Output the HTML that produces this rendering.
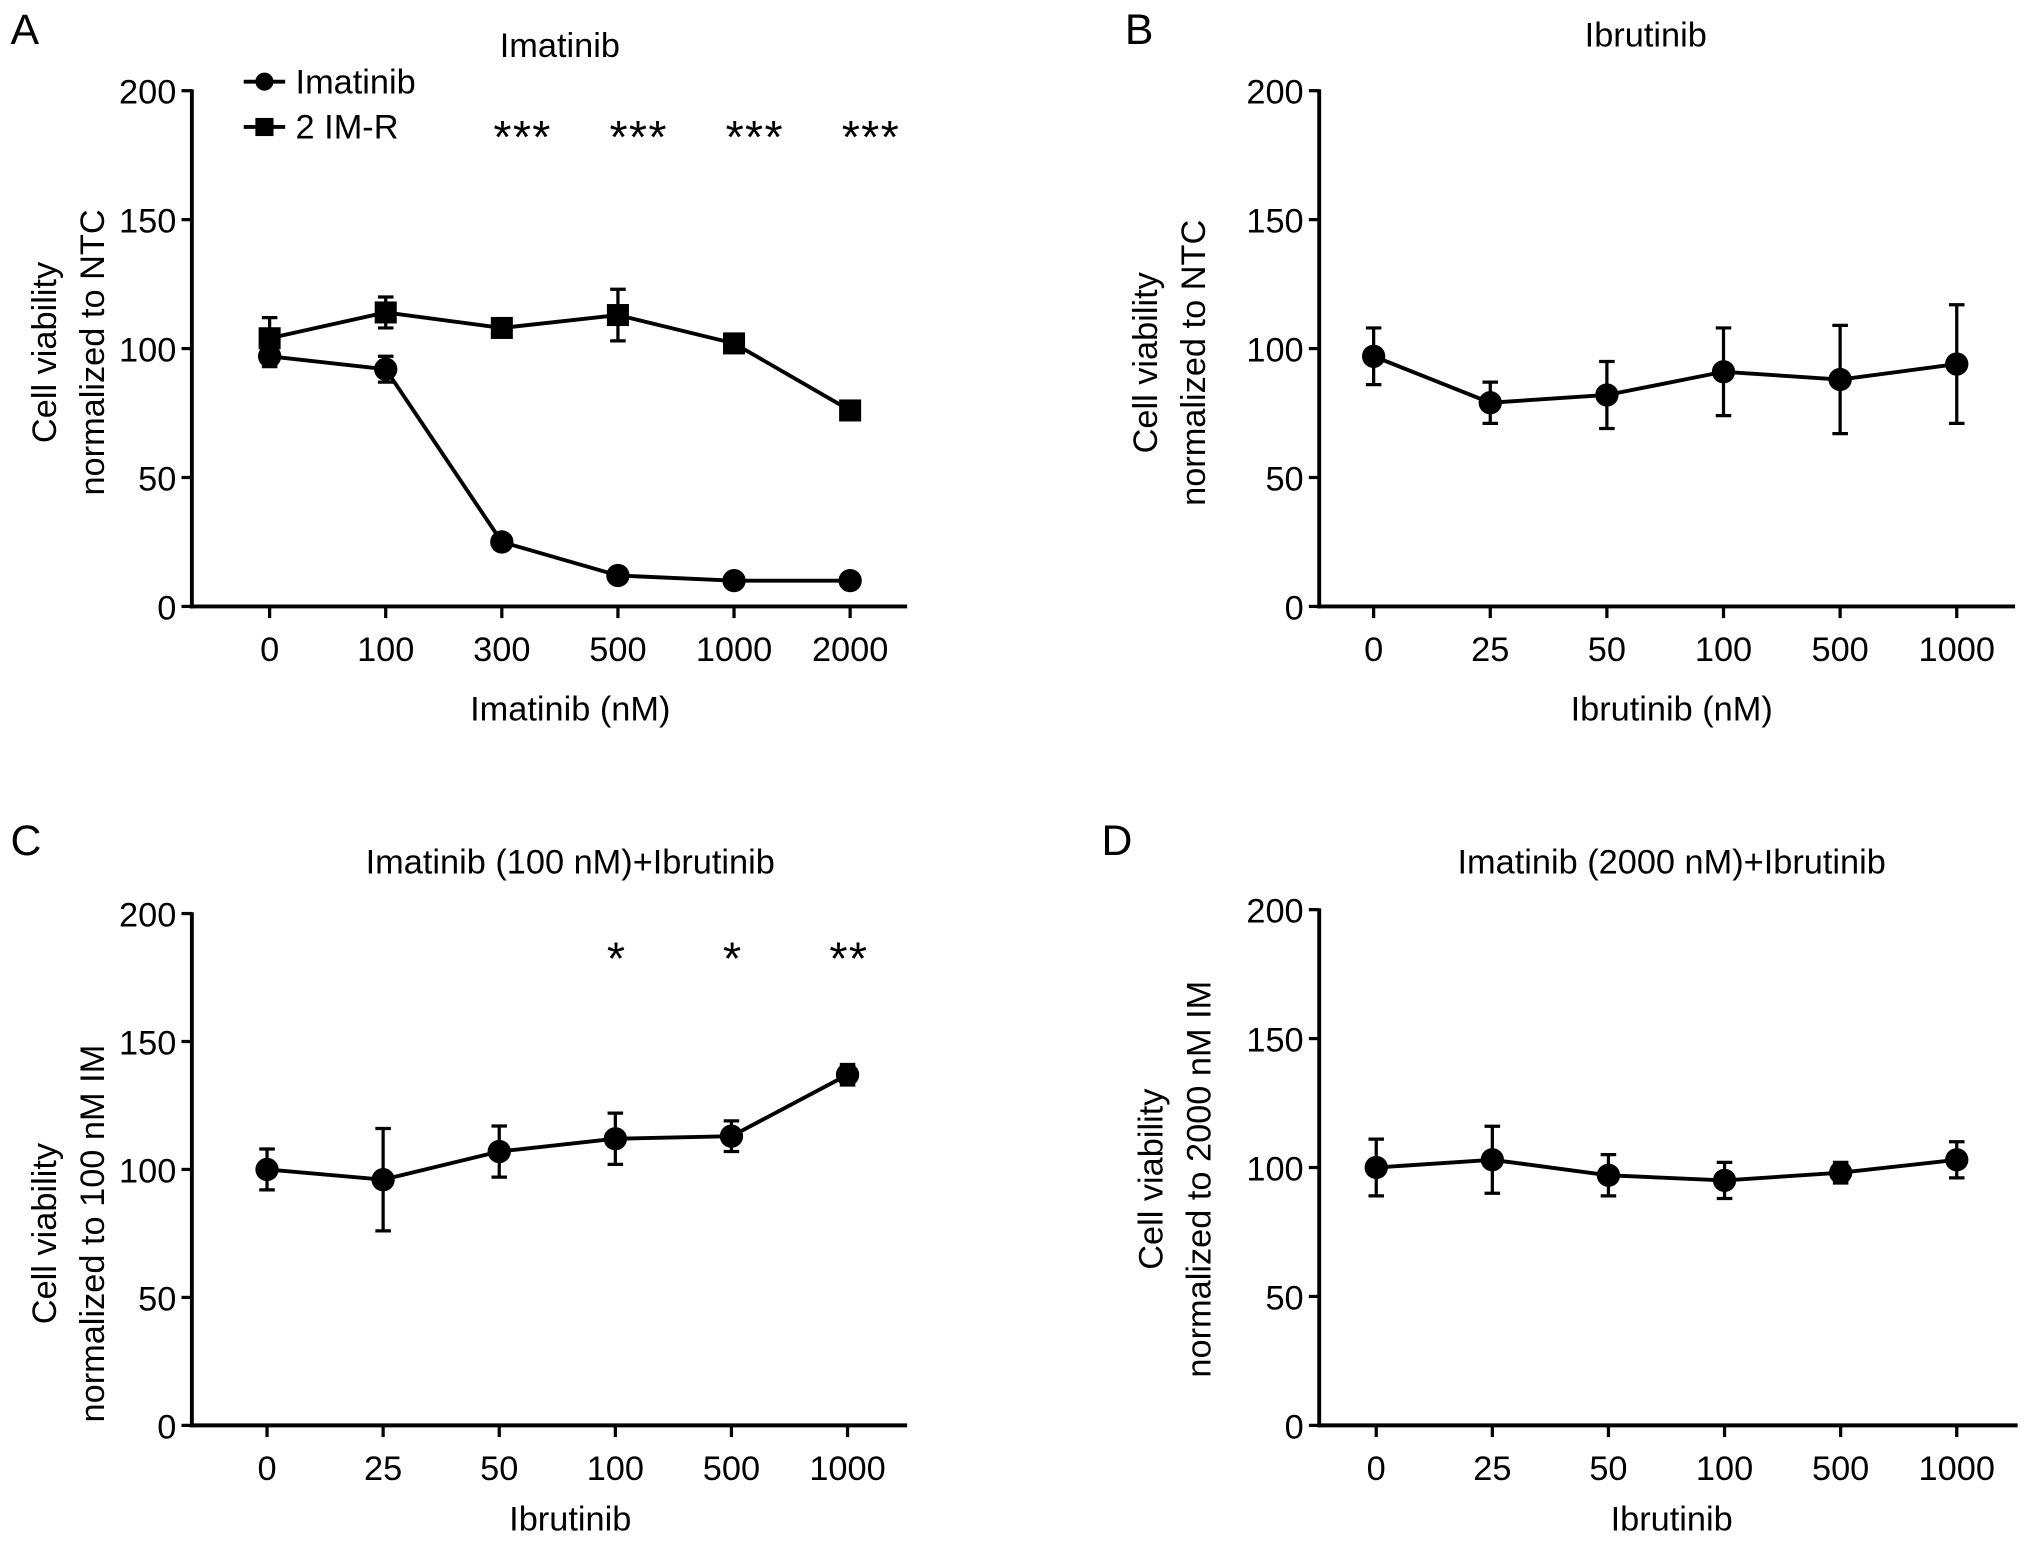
<!DOCTYPE html>
<html><head><meta charset="utf-8"><style>
html,body{margin:0;padding:0;background:#fff}
svg{display:block;font-family:"Liberation Sans",Arial,sans-serif}
</style></head><body>
<svg id="fig" width="2032" height="1542" viewBox="0 0 1568 1190" xmlns="http://www.w3.org/2000/svg"></svg>
<script>
const catsA = ["0","100","300","500","1000","2000"];
const imaVals = [97,92,25,12,10,10];
const imaErr = [4,5,1,1,1,1];
const imrVals = [104,114,108,113,102,76];
const imrErr = [8,6,3,10,3,3];
const starsA = ["","","***","***","***","***"];
const catsIb = ["0","25","50","100","500","1000"];
const ibVals = [97,79,82,91,88,94];
const ibErr = [11,8,13,17,21,23];
const cVals = [100,96,107,112,113,137];
const cErr = [8,20,10,10,6,4];
const starsC = ["","","","*","*","**"];
const dVals = [100,103,97,95,98,103];
const dErr = [11,13,8,7,4,7];
const yTicks = [0,50,100,150,200];

const NS="http://www.w3.org/2000/svg";
const svg=document.getElementById('fig');
function mk(tag,attrs,parent,text){const e=document.createElementNS(NS,tag);for(const k in attrs)e.setAttribute(k,attrs[k]);if(text!==undefined)e.textContent=text;(parent||svg).appendChild(e);return e;}
const FS=26.5;

function panel(o){
  const g=mk('g',{});
  
  
  const y=v=>o.y0-(v/200)*(o.y0-o.y1);
  const x=i=>o.xs+i*o.dx;
  const t=mk('text',{x:o.lx,y:o.ly,'font-size':33},g,o.id.toUpperCase());
  
  const ti=mk('text',{x:o.tx,y:o.ty,'font-size':FS,'text-anchor':'middle'},g,o.title);
  
  const ya=mk('line',{x1:o.ax,y1:o.y1-1,x2:o.ax,y2:o.y0+1.5,stroke:'#000','stroke-width':3},g);
  
  const xa=mk('line',{x1:o.ax-1.5,y1:o.y0,x2:o.axEnd,y2:o.y0,stroke:'#000','stroke-width':3},g);
  
  yTicks.forEach(v=>{
    mk('line',{x1:o.ax-8,y1:y(v),x2:o.ax,y2:y(v),stroke:'#000','stroke-width':2.5},g);
    const tl=mk('text',{x:o.ax-12,y:y(v)+10,'font-size':FS,'text-anchor':'end'},g,String(v));
    
  });
  o.cats.forEach((c,i)=>{
    mk('line',{x1:x(i),y1:o.y0,x2:x(i),y2:o.y0+9,stroke:'#000','stroke-width':2.5},g);
    const tl=mk('text',{x:x(i),y:o.y0+42,'font-size':FS,'text-anchor':'middle'},g,c);
    
  });
  const xl=mk('text',{x:o.xlx,y:o.xly,'font-size':FS,'text-anchor':'middle'},g,o.xlabel);
  
  const yl=mk('text',{transform:`translate(${o.ylx},${o.yly}) rotate(-90)`,'font-size':FS,'text-anchor':'middle'},g);
  
  mk('tspan',{x:0,y:0},yl,o.ylabel[0]);
  mk('tspan',{x:0,y:37},yl,o.ylabel[1]);
  o.series.forEach(s=>{
    const sg=mk('g',{},g);
    
    
    mk('polyline',{points:s.vals.map((v,i)=>x(i)+','+y(v)).join(' '),fill:'none',stroke:'#000','stroke-width':3},sg);
    s.vals.forEach((v,i)=>{
      const e=s.err[i];
      const eb=mk('path',{d:`M${x(i)},${y(v+e)}V${y(v-e)}M${x(i)-6},${y(v+e)}H${x(i)+6}M${x(i)-6},${y(v-e)}H${x(i)+6}`,stroke:'#000','stroke-width':2.5,fill:'none'},sg);
      
      let m;
      if(s.shape==='sq') m=mk('rect',{x:x(i)-8.5,y:y(v)-8.5,width:17,height:17,fill:'#000'},sg);
      else m=mk('circle',{cx:x(i),cy:y(v),r:9,fill:'#000'},sg);
      
    });
  });
  if(o.stars) o.stars.forEach((s,i)=>{ if(!s) return;
    const st=mk('text',{x:x(i)+(o.starOff||0),y:o.sy,'font-size':36,'text-anchor':'middle','letter-spacing':'1'},g,s);
    
  });
  return {g,x,y};
}

panel({id:'a',lx:8,ly:34,tx:432,ty:44,title:'Imatinib',ax:148,axEnd:700,y0:468,y1:70,xs:208,dx:89.6,cats:catsA,
  xlabel:'Imatinib (nM)',xlx:440,xly:556,ylabel:['Cell viability','normalized to NTC'],ylx:43,yly:272,
  series:[{name:'imatinib',vals:imaVals,err:imaErr,shape:'c'},{name:'2-im-r',vals:imrVals,err:imrErr,shape:'sq'}],stars:starsA,sy:118,starOff:16});
const lg=mk('g',{});

mk('line',{x1:188,y1:63,x2:220,y2:63,stroke:'#000','stroke-width':3},lg);
mk('circle',{cx:204,cy:63,r:7,fill:'#000'},lg);
const l1=mk('text',{x:228,y:72,'font-size':FS},lg,'Imatinib');

mk('line',{x1:188,y1:98,x2:220,y2:98,stroke:'#000','stroke-width':3},lg);
mk('rect',{x:197,y:91,width:14,height:14,fill:'#000'},lg);
const l2=mk('text',{x:228,y:107,'font-size':FS},lg,'2 IM-R');


panel({id:'b',lx:868,ly:34,tx:1270,ty:36,title:'Ibrutinib',ax:1018,axEnd:1555,y0:468,y1:70,xs:1060,dx:90,cats:catsIb,
  xlabel:'Ibrutinib (nM)',xlx:1290,xly:556,ylabel:['Cell viability','normalized to NTC'],ylx:893,yly:280,
  series:[{name:'ibrutinib',vals:ibVals,err:ibErr,shape:'c'}]});
panel({id:'c',lx:8,ly:660,tx:440,ty:674,title:'Imatinib (100 nM)+Ibrutinib',ax:148,axEnd:700,y0:1100,y1:705,xs:206,dx:89.6,cats:catsIb,
  xlabel:'Ibrutinib',xlx:440,xly:1181,ylabel:['Cell viability','normalized to 100 nM IM'],ylx:43,yly:952,
  series:[{name:'combo-100',vals:cVals,err:cErr,shape:'c'}],stars:starsC,sy:752,starOff:1});
panel({id:'d',lx:850,ly:660,tx:1290,ty:674,title:'Imatinib (2000 nM)+Ibrutinib',ax:1018,axEnd:1557,y0:1100,y1:702,xs:1062,dx:89.6,cats:catsIb,
  xlabel:'Ibrutinib',xlx:1290,xly:1181,ylabel:['Cell viability','normalized to 2000 nM IM'],ylx:897,yly:910,
  series:[{name:'combo-2000',vals:dVals,err:dErr,shape:'c'}]});
</script>
</body></html>
